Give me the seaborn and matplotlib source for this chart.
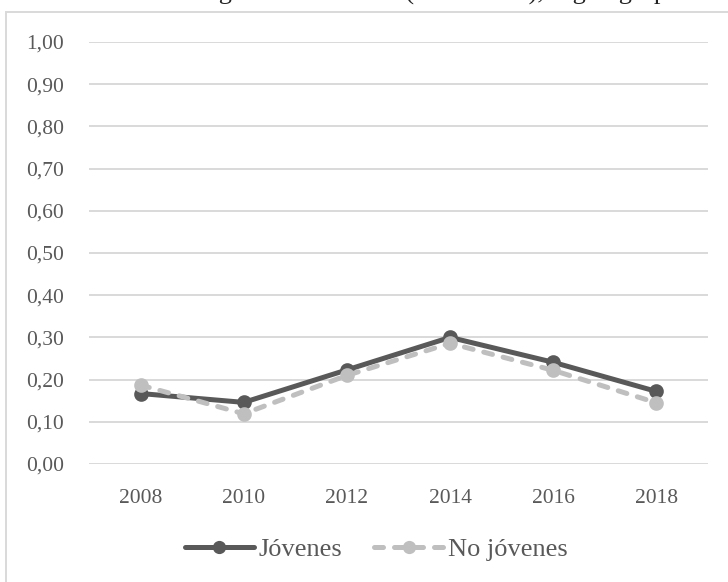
import matplotlib
matplotlib.use("Agg")
import matplotlib.pyplot as plt
from matplotlib.patches import Rectangle
from matplotlib.lines import Line2D
import pandas as pd
import seaborn as sns

# Series values
years = ["2008", "2010", "2012", "2014", "2016", "2018"]
jovenes = [0.167, 0.146, 0.223, 0.300, 0.241, 0.172]
no_jovenes = [0.187, 0.119, 0.210, 0.286, 0.222, 0.145]
y_ticks = [0.0, 0.1, 0.2, 0.3, 0.4, 0.5, 0.6, 0.7, 0.8, 0.9, 1.0]
series_names = ["Jóvenes", "No jóvenes"]
title_text = "Índice de Theil del ingreso económico (2008-2018), según grupos de edad"

dark = "#595959"
light = "#bfbfbf"
grid_c = "#d9d9d9"

df = pd.DataFrame({
    "Año": years * 2,
    "Valor": jovenes + no_jovenes,
    "Grupo": [series_names[0]] * len(years) + [series_names[1]] * len(years),
})

sns.set_theme(style="white")
plt.rcParams["font.family"] = ["Liberation Serif", "DejaVu Serif"]

W, H, DPI = 728, 582, 100
fig = plt.figure(figsize=(W / DPI, H / DPI), dpi=DPI)
ax = fig.add_axes([89 / W, 1 - 464 / H, (708 - 89) / W, (464 - 42) / H])

# Chart border (only top and left visible)
fig.patches.append(Rectangle((6 / W, -0.1), 1.2, 1 - 12 / H + 0.1,
                             transform=fig.transFigure, fill=False,
                             edgecolor=grid_c, linewidth=1.4))

# Title line running off the top edge
fig.text(-0.01, 1 + 1 / H, title_text, fontsize=19, color="#222222",
         ha="left", va="baseline")

sns.pointplot(data=df, x="Año", y="Valor", hue="Grupo", ax=ax,
              palette=[dark, light], markers=["o", "o"],
              linestyles=["-", "--"], errorbar=None, legend=False)

dash_pattern = [1.8, 2.2]
lines = ax.get_lines()
for ln, c in zip(lines, [dark, light]):
    ln.set_linewidth(3.6)
    ln.set_markersize(8.5)
    ln.set_color(c)
    ln.set_markerfacecolor(c)
    ln.set_markeredgecolor(c)
    ln.set_solid_capstyle("round")
    ln.set_dash_capstyle("round")
lines[1].set_dashes(dash_pattern)
lines[0].set_zorder(3)
lines[1].set_zorder(4)

ax.set_ylim(0, 1.0)
ax.set_xlim(-0.5, len(years) - 0.5)
ax.set_yticks(y_ticks)
ax.set_yticklabels([f"{v:.2f}".replace(".", ",") for v in y_ticks])
ax.yaxis.grid(True, color=grid_c, linewidth=1.4)
ax.xaxis.grid(False)
ax.set_axisbelow(True)
for s in ax.spines.values():
    s.set_visible(False)
ax.set_xlabel("")
ax.set_ylabel("")
ax.tick_params(axis="y", length=0, pad=18, labelsize=15.5, labelcolor=dark)
ax.tick_params(axis="x", length=0, pad=18, labelsize=15.5, labelcolor=dark)

handles = [
    Line2D([], [], color=dark, linewidth=3.6, marker="o", markersize=8.5,
           solid_capstyle="round"),
    Line2D([], [], color=light, linewidth=3.6, marker="o", markersize=8.5,
           dashes=dash_pattern, dash_capstyle="round"),
]
fig.legend(handles, series_names, loc="center", bbox_to_anchor=(376 / W, 1 - 549 / H),
           ncol=2, frameon=False, fontsize=19, labelcolor=dark,
           handlelength=2.65, handletextpad=0.15, columnspacing=1.2)

fig.savefig("out.png", dpi=DPI, facecolor="white")
